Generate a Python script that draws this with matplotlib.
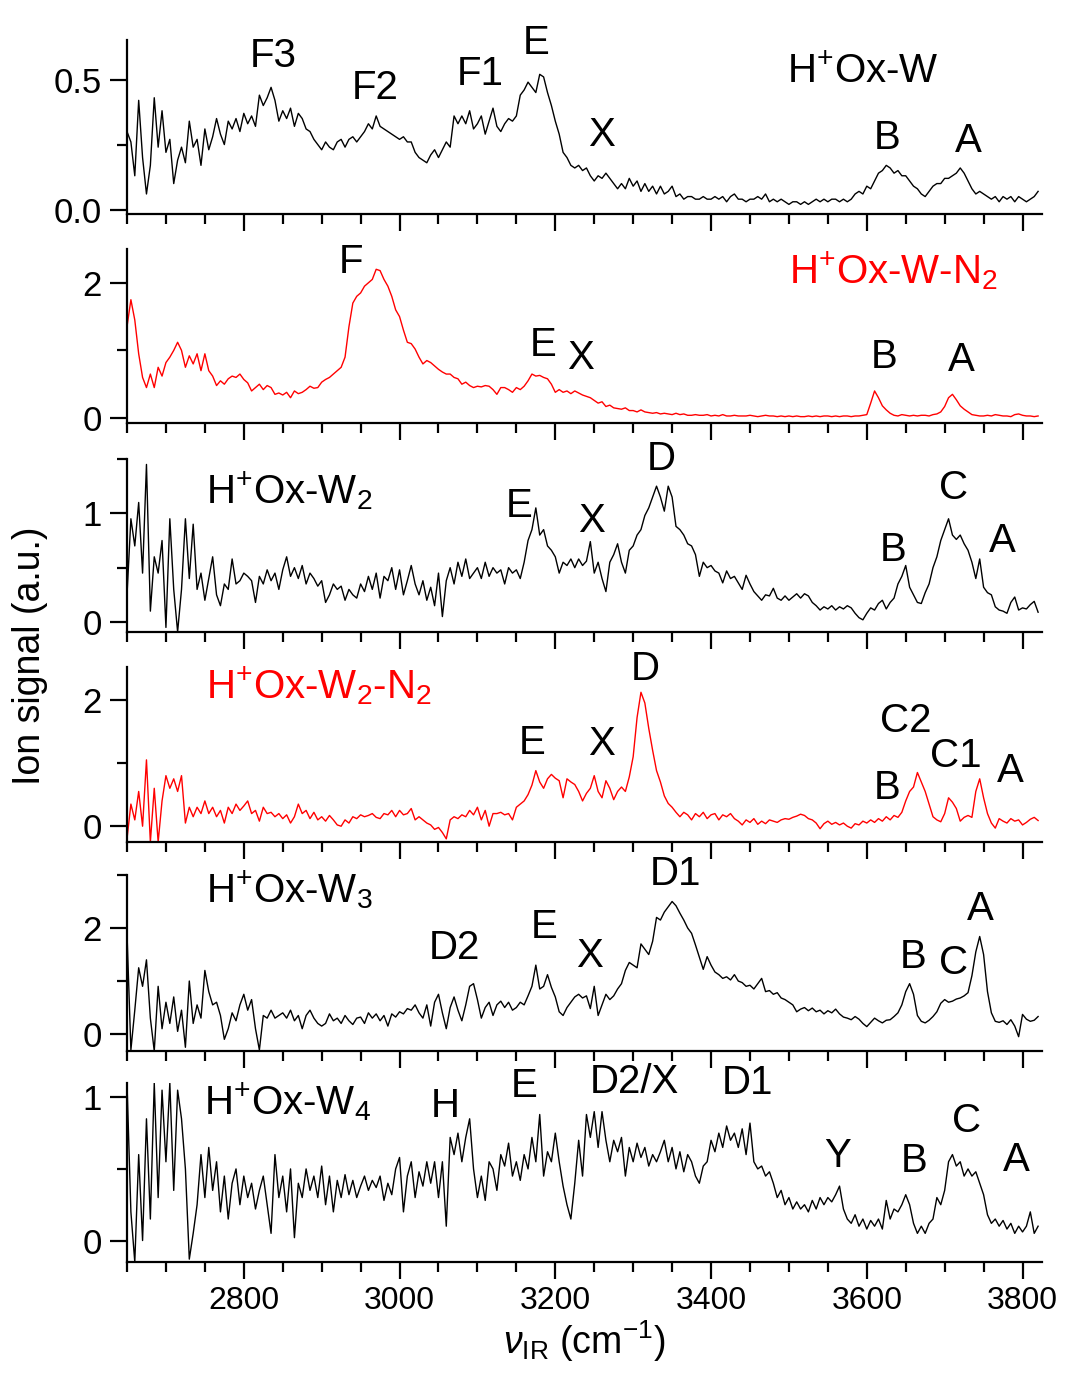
import numpy as np
import matplotlib

matplotlib.use("Agg")
import matplotlib.pyplot as plt
from matplotlib.ticker import MultipleLocator, FixedLocator

plt.rcParams["font.family"] = ["Liberation Sans", "DejaVu Sans"]
plt.rcParams["mathtext.fontset"] = "custom"
plt.rcParams["mathtext.rm"] = "Liberation Sans"
plt.rcParams["mathtext.it"] = "Liberation Sans:italic"
plt.rcParams["mathtext.bf"] = "Liberation Sans:bold"

wavenumber = np.arange(2650, 3825, 5)

ox_w = [
    0.30, 0.26, 0.13, 0.42, 0.20, 0.06, 0.17, 0.43, 0.24, 0.38,
    0.22, 0.27, 0.10, 0.19, 0.24, 0.18, 0.34, 0.24, 0.27, 0.17,
    0.31, 0.23, 0.28, 0.35, 0.29, 0.25, 0.34, 0.31, 0.35, 0.30,
    0.37, 0.33, 0.36, 0.32, 0.44, 0.40, 0.43, 0.47, 0.42, 0.34,
    0.38, 0.35, 0.39, 0.32, 0.37, 0.35, 0.31, 0.30, 0.27, 0.25,
    0.23, 0.26, 0.24, 0.23, 0.26, 0.27, 0.24, 0.27, 0.28, 0.26,
    0.28, 0.30, 0.33, 0.31, 0.36, 0.32, 0.31, 0.30, 0.29, 0.28,
    0.27, 0.28, 0.26, 0.26, 0.22, 0.20, 0.19, 0.18, 0.21, 0.23,
    0.20, 0.23, 0.26, 0.24, 0.36, 0.33, 0.36, 0.33, 0.38, 0.31,
    0.33, 0.36, 0.29, 0.34, 0.39, 0.32, 0.30, 0.33, 0.35, 0.34,
    0.36, 0.44, 0.46, 0.49, 0.47, 0.45, 0.52, 0.51, 0.45, 0.40,
    0.34, 0.29, 0.22, 0.20, 0.17, 0.16, 0.17, 0.15, 0.16, 0.13,
    0.11, 0.13, 0.12, 0.14, 0.12, 0.10, 0.08, 0.10, 0.08, 0.12,
    0.09, 0.11, 0.07, 0.10, 0.07, 0.09, 0.06, 0.09, 0.06, 0.07,
    0.09, 0.05, 0.06, 0.04, 0.05, 0.05, 0.04, 0.04, 0.05, 0.04,
    0.04, 0.05, 0.04, 0.05, 0.03, 0.05, 0.06, 0.04, 0.04, 0.03,
    0.04, 0.04, 0.05, 0.04, 0.06, 0.03, 0.04, 0.03, 0.04, 0.03,
    0.02, 0.03, 0.03, 0.02, 0.03, 0.02, 0.03, 0.04, 0.03, 0.04,
    0.03, 0.04, 0.04, 0.03, 0.04, 0.03, 0.04, 0.06, 0.07, 0.06,
    0.09, 0.08, 0.11, 0.14, 0.15, 0.17, 0.16, 0.14, 0.15, 0.13,
    0.13, 0.11, 0.09, 0.08, 0.06, 0.05, 0.07, 0.09, 0.10, 0.10,
    0.12, 0.12, 0.13, 0.14, 0.16, 0.14, 0.11, 0.08, 0.06, 0.07,
    0.06, 0.05, 0.04, 0.05, 0.03, 0.05, 0.04, 0.05, 0.03, 0.05,
    0.04, 0.03, 0.04, 0.05, 0.07,
]

ox_w_n2 = [
    1.35, 1.75, 1.45, 0.95, 0.60, 0.45, 0.65, 0.45, 0.75, 0.62,
    0.82, 0.90, 1.00, 1.12, 1.00, 0.75, 0.92, 0.80, 0.95, 0.70,
    0.95, 0.70, 0.62, 0.48, 0.55, 0.50, 0.58, 0.62, 0.60, 0.65,
    0.57, 0.52, 0.40, 0.45, 0.50, 0.42, 0.48, 0.45, 0.35, 0.37,
    0.34, 0.38, 0.30, 0.40, 0.36, 0.38, 0.42, 0.47, 0.44, 0.45,
    0.53, 0.57, 0.60, 0.65, 0.70, 0.75, 0.90, 1.35, 1.70, 1.80,
    1.85, 1.95, 2.00, 2.05, 2.20, 2.18, 2.05, 1.95, 1.80, 1.60,
    1.50, 1.30, 1.12, 1.10, 1.02, 0.90, 0.80, 0.85, 0.82, 0.77,
    0.72, 0.68, 0.65, 0.65, 0.60, 0.58, 0.50, 0.53, 0.48, 0.45,
    0.47, 0.46, 0.48, 0.47, 0.42, 0.35, 0.45, 0.45, 0.42, 0.38,
    0.45, 0.42, 0.47, 0.55, 0.65, 0.62, 0.63, 0.60, 0.58, 0.50,
    0.38, 0.42, 0.38, 0.40, 0.36, 0.40, 0.37, 0.34, 0.32, 0.30,
    0.26, 0.22, 0.24, 0.17, 0.19, 0.15, 0.14, 0.13, 0.15, 0.11,
    0.11, 0.09, 0.12, 0.09, 0.08, 0.07, 0.08, 0.06, 0.07, 0.06,
    0.05, 0.07, 0.05, 0.06, 0.04, 0.04, 0.05, 0.04, 0.04, 0.05,
    0.03, 0.04, 0.03, 0.05, 0.03, 0.03, 0.04, 0.03, 0.03, 0.03,
    0.04, 0.03, 0.02, 0.03, 0.04, 0.03, 0.03, 0.02, 0.03, 0.02,
    0.03, 0.02, 0.03, 0.02, 0.02, 0.03, 0.02, 0.03, 0.02, 0.03,
    0.03, 0.02, 0.03, 0.02, 0.03, 0.03, 0.02, 0.03, 0.03, 0.04,
    0.05, 0.22, 0.40, 0.30, 0.18, 0.12, 0.07, 0.04, 0.03, 0.05,
    0.04, 0.03, 0.04, 0.03, 0.04, 0.04, 0.03, 0.05, 0.06, 0.09,
    0.17, 0.30, 0.35, 0.27, 0.18, 0.13, 0.09, 0.05, 0.04, 0.03,
    0.03, 0.04, 0.03, 0.05, 0.04, 0.03, 0.03, 0.02, 0.05, 0.06,
    0.04, 0.03, 0.03, 0.02, 0.03,
]

ox_w2 = [
    0.25, 0.95, 0.70, 1.10, 0.45, 1.45, 0.10, 0.60, 0.45, 0.75,
    -0.05, 0.95, 0.30, -0.09, 0.30, 0.95, 0.40, 0.90, 0.30, 0.45,
    0.20, 0.40, 0.60, 0.25, 0.15, 0.35, 0.30, 0.58, 0.35, 0.38,
    0.45, 0.42, 0.38, 0.18, 0.42, 0.35, 0.48, 0.38, 0.45, 0.30,
    0.48, 0.60, 0.42, 0.50, 0.40, 0.52, 0.35, 0.45, 0.40, 0.33,
    0.38, 0.18, 0.25, 0.35, 0.30, 0.33, 0.20, 0.30, 0.25, 0.22,
    0.35, 0.28, 0.42, 0.30, 0.45, 0.22, 0.42, 0.38, 0.50, 0.30,
    0.48, 0.25, 0.38, 0.52, 0.35, 0.25, 0.38, 0.20, 0.32, 0.15,
    0.45, 0.05, 0.38, 0.50, 0.35, 0.55, 0.42, 0.58, 0.40, 0.45,
    0.50, 0.40, 0.55, 0.42, 0.50, 0.45, 0.48, 0.35, 0.50, 0.45,
    0.48, 0.40, 0.55, 0.75, 0.85, 1.05, 0.80, 0.85, 0.70, 0.66,
    0.60, 0.45, 0.55, 0.52, 0.58, 0.50, 0.58, 0.52, 0.56, 0.74,
    0.45, 0.55, 0.40, 0.28, 0.55, 0.62, 0.72, 0.55, 0.45, 0.66,
    0.70, 0.80, 0.85, 0.98, 1.05, 1.15, 1.25, 1.15, 1.02, 1.25,
    1.15, 0.88, 0.85, 0.80, 0.72, 0.70, 0.62, 0.42, 0.55, 0.50,
    0.52, 0.47, 0.45, 0.36, 0.47, 0.40, 0.42, 0.36, 0.30, 0.43,
    0.35, 0.28, 0.24, 0.20, 0.25, 0.24, 0.31, 0.22, 0.20, 0.24,
    0.20, 0.23, 0.26, 0.22, 0.26, 0.24, 0.18, 0.15, 0.11, 0.14,
    0.12, 0.15, 0.11, 0.14, 0.12, 0.15, 0.13, 0.08, 0.04, 0.02,
    0.08, 0.13, 0.11, 0.17, 0.20, 0.12, 0.18, 0.22, 0.35, 0.42,
    0.52, 0.32, 0.25, 0.18, 0.17, 0.27, 0.35, 0.50, 0.60, 0.75,
    0.85, 0.95, 0.80, 0.76, 0.80, 0.72, 0.66, 0.55, 0.40, 0.58,
    0.32, 0.27, 0.25, 0.14, 0.11, 0.10, 0.08, 0.18, 0.23, 0.11,
    0.13, 0.12, 0.16, 0.19, 0.09,
]

ox_w2_n2 = [
    -0.20, 0.35, 0.10, 0.55, 0.00, 1.05, -0.25, 0.60, -0.25, 0.40,
    0.80, 0.60, 0.75, 0.55, 0.80, 0.05, 0.30, 0.15, 0.30, 0.20,
    0.40, 0.20, 0.30, 0.15, 0.25, 0.05, 0.30, 0.20, 0.35, 0.25,
    0.32, 0.40, 0.20, 0.25, 0.08, 0.30, 0.20, 0.22, 0.15, 0.20,
    0.12, 0.18, 0.05, 0.15, 0.35, 0.20, 0.25, 0.12, 0.22, 0.10,
    0.15, 0.08, 0.17, 0.10, 0.02, 0.00, 0.10, 0.05, 0.15, 0.12,
    0.18, 0.15, 0.17, 0.20, 0.14, 0.12, 0.20, 0.18, 0.25, 0.15,
    0.25, 0.18, 0.20, 0.28, 0.10, 0.15, 0.10, 0.05, 0.02, -0.05,
    -0.02, -0.10, -0.20, 0.10, 0.15, 0.12, 0.18, 0.15, 0.25, 0.18,
    0.30, 0.10, 0.25, 0.00, 0.20, 0.20, 0.22, 0.18, 0.20, 0.10,
    0.30, 0.35, 0.40, 0.50, 0.65, 0.88, 0.70, 0.60, 0.75, 0.82,
    0.76, 0.72, 0.45, 0.75, 0.70, 0.66, 0.55, 0.40, 0.52, 0.60,
    0.80, 0.55, 0.45, 0.72, 0.60, 0.42, 0.55, 0.62, 0.55, 0.78,
    1.10, 1.72, 2.12, 1.95, 1.55, 1.20, 0.88, 0.70, 0.48, 0.36,
    0.30, 0.22, 0.15, 0.22, 0.18, 0.10, 0.20, 0.15, 0.22, 0.12,
    0.18, 0.20, 0.10, 0.18, 0.15, 0.20, 0.12, 0.08, 0.02, 0.10,
    0.06, 0.12, 0.03, 0.08, 0.04, 0.10, 0.08, 0.06, 0.10, 0.12,
    0.11, 0.14, 0.16, 0.19, 0.17, 0.12, 0.10, 0.05, -0.04, 0.04,
    0.08, 0.03, 0.06, 0.02, 0.05, 0.00, -0.03, 0.04, 0.02, 0.08,
    0.05, 0.10, 0.06, 0.12, 0.08, 0.15, 0.10, 0.17, 0.14, 0.22,
    0.40, 0.55, 0.62, 0.85, 0.70, 0.55, 0.35, 0.15, 0.10, 0.07,
    0.20, 0.45, 0.38, 0.28, 0.08, 0.14, 0.17, 0.14, 0.55, 0.75,
    0.45, 0.20, 0.05, -0.03, 0.12, 0.08, 0.05, 0.12, 0.08, 0.10,
    0.02, 0.06, 0.11, 0.14, 0.09,
]

ox_w3 = [
    1.90, -0.30, 0.45, 1.25, 0.90, 1.40, 0.30, -0.32, 0.90, 0.10,
    0.60, 0.20, 0.70, 0.05, 0.45, -0.25, 1.00, 0.20, 0.55, 0.30,
    1.20, 0.80, 0.55, 0.60, 0.35, -0.10, 0.10, 0.40, 0.25, 0.55,
    0.75, 0.45, 0.65, 0.10, -0.30, 0.35, 0.30, 0.45, 0.30, 0.35,
    0.40, 0.30, 0.45, 0.25, 0.35, 0.10, 0.35, 0.45, 0.30, 0.20,
    0.15, 0.20, 0.38, 0.25, 0.30, 0.20, 0.35, 0.25, 0.18, 0.30,
    0.32, 0.20, 0.40, 0.30, 0.38, 0.25, 0.35, 0.15, 0.38, 0.32,
    0.42, 0.38, 0.48, 0.45, 0.55, 0.40, 0.30, 0.55, 0.15, 0.60,
    0.75, 0.40, 0.10, 0.50, 0.70, 0.45, 0.25, 0.55, 0.90, 0.95,
    0.65, 0.30, 0.50, 0.60, 0.35, 0.55, 0.62, 0.50, 0.60, 0.45,
    0.50, 0.60, 0.55, 0.72, 0.90, 1.30, 0.85, 0.90, 1.12, 0.88,
    0.70, 0.42, 0.35, 0.50, 0.60, 0.70, 0.75, 0.68, 0.72, 0.48,
    0.90, 0.35, 0.55, 0.75, 0.65, 0.72, 0.85, 0.95, 1.20, 1.35,
    1.30, 1.25, 1.70, 1.60, 1.50, 1.75, 2.20, 2.15, 2.30, 2.40,
    2.50, 2.42, 2.28, 2.15, 2.00, 1.90, 1.68, 1.45, 1.22, 1.46,
    1.30, 1.17, 1.12, 1.05, 1.08, 1.02, 1.12, 1.00, 0.97, 0.90,
    0.92, 0.85, 0.95, 1.05, 0.80, 0.82, 0.75, 0.78, 0.68, 0.65,
    0.60, 0.55, 0.42, 0.47, 0.50, 0.44, 0.49, 0.42, 0.45, 0.38,
    0.44, 0.40, 0.47, 0.38, 0.32, 0.30, 0.27, 0.33, 0.28, 0.20,
    0.14, 0.22, 0.30, 0.25, 0.21, 0.26, 0.27, 0.33, 0.40, 0.55,
    0.80, 0.95, 0.75, 0.35, 0.24, 0.21, 0.26, 0.33, 0.42, 0.58,
    0.65, 0.60, 0.62, 0.66, 0.68, 0.72, 0.78, 1.10, 1.55, 1.84,
    1.50, 0.80, 0.40, 0.24, 0.22, 0.25, 0.18, 0.27, 0.15, -0.05,
    0.37, 0.28, 0.24, 0.26, 0.33,
]

ox_w4 = [
    1.10, 0.20, -0.15, 0.60, 0.00, 0.85, 0.15, 1.10, 0.30, 1.05,
    0.55, 1.10, 0.35, 1.05, 0.85, 0.50, -0.13, 0.05, 0.25, 0.60,
    0.30, 0.65, 0.35, 0.55, 0.20, 0.45, 0.15, 0.40, 0.50, 0.25,
    0.45, 0.30, 0.40, 0.22, 0.35, 0.45, 0.25, 0.05, 0.60, 0.30,
    0.45, 0.20, 0.50, 0.02, 0.40, 0.30, 0.50, 0.35, 0.45, 0.30,
    0.52, 0.25, 0.45, 0.20, 0.42, 0.30, 0.46, 0.32, 0.42, 0.30,
    0.38, 0.45, 0.35, 0.42, 0.37, 0.45, 0.28, 0.40, 0.32, 0.50,
    0.58, 0.20, 0.45, 0.55, 0.30, 0.48, 0.38, 0.55, 0.40, 0.55,
    0.30, 0.55, 0.10, 0.72, 0.60, 0.75, 0.55, 0.72, 0.85, 0.50,
    0.30, 0.45, 0.28, 0.55, 0.50, 0.35, 0.60, 0.52, 0.68, 0.45,
    0.55, 0.42, 0.60, 0.50, 0.72, 0.55, 0.88, 0.45, 0.62, 0.55,
    0.75, 0.55, 0.38, 0.25, 0.15, 0.40, 0.70, 0.45, 0.88, 0.72,
    0.90, 0.65, 0.90, 0.70, 0.55, 0.70, 0.62, 0.72, 0.45, 0.65,
    0.55, 0.68, 0.58, 0.65, 0.52, 0.60, 0.55, 0.62, 0.70, 0.55,
    0.65, 0.50, 0.62, 0.48, 0.60, 0.55, 0.45, 0.40, 0.52, 0.55,
    0.70, 0.62, 0.75, 0.65, 0.80, 0.70, 0.75, 0.65, 0.78, 0.60,
    0.82, 0.55, 0.50, 0.52, 0.45, 0.48, 0.40, 0.30, 0.35, 0.25,
    0.30, 0.22, 0.27, 0.22, 0.25, 0.20, 0.28, 0.22, 0.30, 0.25,
    0.30, 0.27, 0.32, 0.38, 0.22, 0.15, 0.12, 0.18, 0.10, 0.15,
    0.08, 0.14, 0.10, 0.15, 0.08, 0.28, 0.15, 0.22, 0.20, 0.25,
    0.32, 0.25, 0.12, 0.05, 0.10, 0.05, 0.12, 0.15, 0.30, 0.25,
    0.35, 0.55, 0.60, 0.52, 0.55, 0.45, 0.50, 0.45, 0.48, 0.40,
    0.32, 0.18, 0.12, 0.15, 0.10, 0.14, 0.08, 0.12, 0.05, 0.10,
    0.06, 0.10, 0.20, 0.05, 0.10,
]

species = [
    r"H$^{+}$Ox-W",
    r"H$^{+}$Ox-W-N$_{2}$",
    r"H$^{+}$Ox-W$_{2}$",
    r"H$^{+}$Ox-W$_{2}$-N$_{2}$",
    r"H$^{+}$Ox-W$_{3}$",
    r"H$^{+}$Ox-W$_{4}$",
]
traces = [ox_w, ox_w_n2, ox_w2, ox_w2_n2, ox_w3, ox_w4]
colors = ["black", "#FF0000", "black", "#FF0000", "black", "black"]

# species label anchor (left edge, baseline) per panel
species_pos = [(3498, 0.488), (3500, 1.985), (2751, 1.09), (2751, 2.02), (2751, 2.48), (2749, 0.88)]

# peak labels: (text, wavenumber, baseline) per panel
peak_labels = [
    [("F3", 2838, 0.548), ("F2", 2969, 0.425), ("F1", 3103, 0.48), ("E", 3175, 0.60),
     ("X", 3259, 0.244), ("B", 3626, 0.231), ("A", 3730, 0.222)],
    [("F", 2938, 2.15), ("E", 3185, 0.92), ("X", 3232, 0.72), ("B", 3622, 0.745), ("A", 3721, 0.70)],
    [("E", 3153, 0.965), ("X", 3247, 0.83), ("D", 3336, 1.40), ("B", 3634, 0.56),
     ("C", 3711, 1.135), ("A", 3774, 0.64)],
    [("E", 3170, 1.15), ("X", 3259, 1.12), ("D", 3316, 2.31), ("B", 3626, 0.435),
     ("C2", 3650, 1.485), ("C1", 3714, 0.945), ("A", 3784, 0.70)],
    [("D2", 3071, 1.41), ("E", 3186, 1.81), ("X", 3244, 1.26), ("D1", 3354, 2.82),
     ("B", 3659, 1.24), ("C", 3712, 1.13), ("A", 3746, 2.16)],
    [("H", 3059, 0.86), ("E", 3160, 1.005), ("D2/X", 3302, 1.03), ("D1", 3447, 1.02),
     ("Y", 3562, 0.515), ("B", 3661, 0.48), ("C", 3728, 0.755), ("A", 3792, 0.485)],
]

y_limits = [(-0.017, 0.652), (-0.074, 2.5), (-0.092, 1.5), (-0.25, 2.52), (-0.32, 3.0), (-0.15, 1.1)]
y_major = [[0, 0.5], [0, 2], [0, 1], [0, 2], [0, 2], [0, 1]]
y_minor = [[0.25], [1], [0.5, 1.5], [1], [1, 3], [0.5]]
y_ticklabels = [["0.0", "0.5"], ["0", "2"], ["0", "1"], ["0", "2"], ["0", "2"], ["0", "1"]]

W, H = 1068, 1374
panel_top = [40, 249, 459, 667, 875, 1083]
panel_bottom = [214, 423, 632, 842, 1051, 1262]
left_px, right_px = 127, 1042

fig = plt.figure(figsize=(W / 100, H / 100), dpi=100)

axes = []
for i in range(6):
    ax = fig.add_axes([
        left_px / W,
        1 - panel_bottom[i] / H,
        (right_px - left_px) / W,
        (panel_bottom[i] - panel_top[i]) / H,
    ])
    ax.plot(wavenumber, traces[i], color=colors[i], linewidth=1.0)
    ax.set_xlim(2650, 3825)
    ax.set_ylim(*y_limits[i])

    for side in ("top", "right"):
        ax.spines[side].set_visible(False)
    for side in ("left", "bottom"):
        ax.spines[side].set_linewidth(1.6)

    ax.xaxis.set_major_locator(MultipleLocator(200))
    ax.xaxis.set_minor_locator(MultipleLocator(50))
    ax.yaxis.set_major_locator(FixedLocator(y_major[i]))
    ax.yaxis.set_minor_locator(FixedLocator(y_minor[i]))
    ax.set_yticklabels(y_ticklabels[i])
    ax.tick_params(which="major", direction="out", length=12, width=1.6)
    ax.tick_params(axis="y", which="major", labelsize=25, pad=6)
    ax.tick_params(axis="x", which="major", labelsize=23, pad=5)
    ax.tick_params(which="minor", direction="out", length=7, width=1.6)
    if i < 5:
        ax.tick_params(axis="x", labelbottom=False)

    sx, sy = species_pos[i]
    ax.text(sx, sy, species[i], color=colors[i], fontsize=29, ha="left", va="baseline")
    for label, x, y in peak_labels[i]:
        ax.text(x, y, label, color="black", fontsize=29, ha="center", va="baseline")
    axes.append(ax)

axes[-1].set_xlabel(r"$\nu_{\rm IR}$ (cm$^{-1}$)", fontsize=27, labelpad=2)
fig.text(0.028, 0.523, "Ion signal (a.u.)", rotation=90, ha="center", va="center", fontsize=27)

fig.savefig("out.png", dpi=100)
